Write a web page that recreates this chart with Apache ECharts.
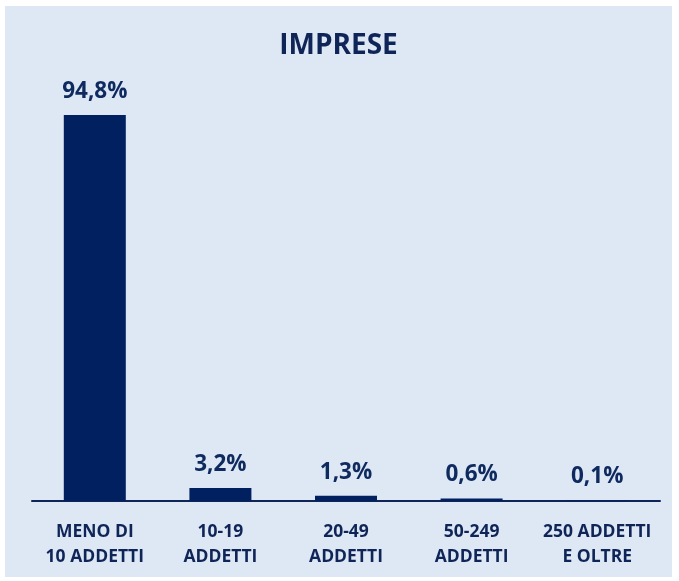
<!DOCTYPE html>
<html><head><meta charset="utf-8">
<script src="https://cdn.jsdelivr.net/npm/echarts@6/dist/echarts.min.js"></script>
<style>
html,body{margin:0;padding:0;background:#ffffff;}
#c{position:absolute;left:5px;top:6px;width:667px;height:571px;}
</style></head>
<body><div id="c"></div>
<script>
const title = 'IMPRESE';
const categories = ['MENO DI\n10 ADDETTI', '10-19\nADDETTI', '20-49\nADDETTI', '50-249\nADDETTI', '250 ADDETTI\nE OLTRE'];
const values = [94.8, 3.2, 1.3, 0.6, 0.1];

const font = "'Open Sans', sans-serif";
const chart = echarts.init(document.getElementById('c'));
chart.setOption({
  backgroundColor: '#dee8f5',
  title: {text: title, left: 'center', top: 21,
    textStyle: {fontFamily: font, fontSize: 28, fontWeight: 'bold', color: '#0f2557'}},
  grid: {left: 27, right: 12, top: 109, bottom: 76},
  xAxis: {type: 'category', data: categories,
    axisLine: {lineStyle: {color: '#0f2557', width: 2}},
    axisTick: {show: false},
    axisLabel: {fontFamily: font, fontSize: 17.5, fontWeight: 'bold', color: '#0f2557',
      lineHeight: 25, margin: 19, interval: 0}},
  yAxis: {type: 'value', min: 0, max: 94.8, show: false, splitLine: {show: false}},
  series: [{type: 'bar', data: values, barWidth: 62,
    itemStyle: {color: '#002060'},
    label: {show: true, position: 'top', distance: 12,
      fontFamily: font, fontSize: 22.5, fontWeight: 'bold', color: '#0f2a5e',
      formatter: p => p.value.toFixed(1).replace('.', ',') + '%'}}]
});
</script></body></html>
